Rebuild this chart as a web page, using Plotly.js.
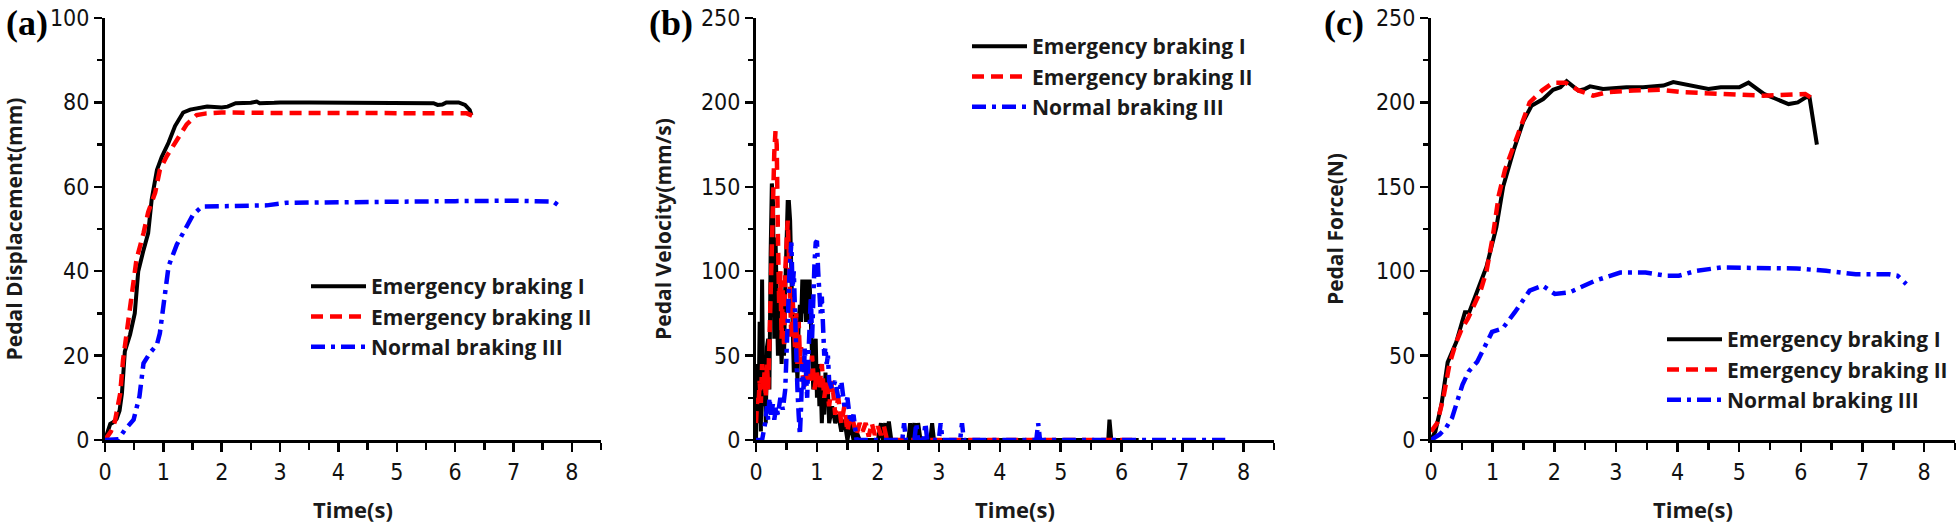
<!DOCTYPE html>
<html>
<head>
<meta charset="utf-8">
<script src="https://cdn.plot.ly/plotly-3.0.1.min.js"></script>
<style>html,body{margin:0;padding:0;background:#fff;}#chart{width:1960px;height:524px;}</style>
</head>
<body>
<div id="chart"></div>
<script>
// ---------- Data ----------
const seriesNames = ['Emergency braking I', 'Emergency braking II', 'Normal braking III'];
const xTicks = [0, 1, 2, 3, 4, 5, 6, 7, 8];

// (a) Pedal displacement (mm)
const tA1 = [0, 0.05, 0.09, 0.14, 0.2, 0.25, 0.29, 0.34, 0.43, 0.51, 0.57, 0.66, 0.74, 0.8, 0.89, 0.97, 1.09, 1.2, 1.34, 1.46, 1.6, 1.75, 2.0, 2.1, 2.24, 2.5, 2.6, 2.65, 2.9, 3.0, 3.5, 4.0, 4.5, 5.0, 5.5, 5.63, 5.7, 5.78, 5.85, 6.06, 6.17, 6.25, 6.28];
const vA1 = [0, 2, 3.8, 4.2, 5, 7, 11, 21, 25, 30, 40, 45, 49, 57, 64, 67, 70.5, 74.4, 77.6, 78.3, 78.6, 79, 78.8, 79, 79.8, 79.9, 80.2, 79.8, 79.9, 80, 80, 80, 80, 80, 80, 79.8, 79.4, 79.5, 80, 80, 79.4, 78.2, 77];
const tA2 = [0, 0.1, 0.17, 0.26, 0.31, 0.4, 0.54, 0.66, 0.74, 0.86, 0.94, 1.06, 1.2, 1.4, 1.57, 1.74, 2.0, 2.5, 3, 4, 5, 6, 6.2, 6.3];
const vA2 = [0, 2, 4.4, 11, 19, 28.5, 42.8, 49, 54, 58.6, 64, 67.3, 70.5, 74.8, 77, 77.4, 77.6, 77.5, 77.5, 77.5, 77.5, 77.5, 77.4, 76.8];
const tA3 = [0, 0.23, 0.34, 0.49, 0.59, 0.66, 0.77, 0.89, 0.94, 1.01, 1.09, 1.23, 1.37, 1.51, 1.66, 2.03, 2.77, 3.11, 4.03, 5, 6, 7, 7.58, 7.68, 7.76];
const vA3 = [0, 0.2, 2.4, 4.8, 10.3, 18.2, 20.6, 22.6, 25.3, 33.3, 41.2, 46.3, 49.9, 53.4, 55.3, 55.4, 55.6, 56.2, 56.4, 56.5, 56.6, 56.7, 56.7, 56.5, 55.7];

// (b) Pedal velocity (mm/s)
const tB1 = [0, 0.02, 0.04, 0.06, 0.08, 0.1, 0.12, 0.14, 0.16, 0.18, 0.2, 0.22, 0.24, 0.26, 0.28, 0.3, 0.32, 0.34, 0.36, 0.38, 0.4, 0.42, 0.44, 0.46, 0.48, 0.5, 0.52, 0.54, 0.56, 0.58, 0.6, 0.62, 0.64, 0.66, 0.68, 0.7, 0.72, 0.74, 0.76, 0.78, 0.8, 0.82, 0.84, 0.86, 0.88, 0.9, 0.92, 0.94, 0.96, 0.98, 1.0, 1.02, 1.04, 1.06, 1.08, 1.1, 1.12, 1.14, 1.16, 1.18, 1.2, 1.25, 1.3, 1.35, 1.4, 1.45, 1.5, 1.55, 1.6, 1.65, 1.7, 2.0, 2.05, 2.08, 2.12, 2.15, 2.18, 2.22, 2.5, 2.53, 2.56, 2.6, 2.63, 2.66, 2.7, 2.86, 2.89, 2.92, 5.78, 5.8, 5.83, 6.28];
const vB1 = [0, 45, 10, 70, 5, 95, 20, 40, 10, 55, 60, 30, 110, 152, 140, 60, 120, 80, 50, 90, 60, 45, 70, 50, 90, 120, 141, 141, 130, 100, 60, 40, 75, 60, 35, 70, 80, 70, 95, 75, 95, 70, 95, 70, 95, 70, 40, 30, 55, 60, 25, 45, 20, 35, 10, 30, 15, 40, 20, 30, 10, 20, 10, 15, 5, 12, 0, 10, 0, 5, 0, 0, 10, 0, 10, 0, 11, 0, 0, 10, 0, 10, 0, 10, 0, 0, 10, 0, 0, 12, 0, 0];
const tB2 = [0, 0.02, 0.04, 0.06, 0.08, 0.1, 0.12, 0.14, 0.16, 0.18, 0.2, 0.22, 0.24, 0.26, 0.28, 0.3, 0.32, 0.34, 0.36, 0.38, 0.4, 0.42, 0.44, 0.46, 0.48, 0.5, 0.52, 0.54, 0.56, 0.58, 0.6, 0.62, 0.64, 0.66, 0.68, 0.7, 0.72, 0.74, 0.76, 0.8, 0.84, 0.88, 0.92, 0.96, 1.0, 1.04, 1.08, 1.12, 1.16, 1.2, 1.25, 1.3, 1.35, 1.4, 1.45, 1.5, 1.55, 1.6, 1.65, 1.7, 1.75, 1.8, 1.85, 1.9, 1.95, 2.0, 2.05, 2.1, 2.15, 6.25];
const vB2 = [10, 25, 20, 35, 22, 45, 30, 40, 25, 45, 30, 60, 100, 120, 150, 170, 183, 175, 120, 80, 100, 60, 90, 55, 100, 125, 130, 110, 80, 60, 85, 70, 55, 75, 45, 70, 50, 55, 40, 30, 45, 35, 50, 30, 40, 30, 45, 25, 35, 20, 35, 15, 25, 10, 20, 5, 15, 10, 3, 10, 5, 10, 2, 10, 3, 8, 3, 8, 0, 0];
const tB3 = [0, 0.1, 0.15, 0.18, 0.2, 0.22, 0.25, 0.28, 0.3, 0.33, 0.36, 0.4, 0.44, 0.48, 0.5, 0.52, 0.55, 0.58, 0.6, 0.62, 0.64, 0.66, 0.68, 0.7, 0.72, 0.74, 0.76, 0.78, 0.8, 0.82, 0.84, 0.86, 0.88, 0.9, 0.92, 0.94, 0.96, 0.98, 1.0, 1.02, 1.04, 1.06, 1.08, 1.1, 1.12, 1.14, 1.16, 1.18, 1.2, 1.25, 1.3, 1.35, 1.4, 1.45, 1.5, 1.55, 1.6, 1.65, 2.4, 2.43, 2.46, 2.6, 2.63, 2.66, 2.75, 2.78, 2.81, 3.0, 3.03, 3.06, 3.35, 3.38, 3.41, 4.6, 4.63, 4.66, 7.7];
const vB3 = [0, 0, 10, 20, 12, 25, 15, 22, 12, 20, 15, 25, 18, 30, 50, 80, 100, 117, 90, 100, 70, 55, 30, 15, 3, 20, 45, 30, 55, 40, 25, 50, 70, 85, 60, 90, 105, 117, 118, 100, 90, 75, 85, 60, 50, 55, 45, 50, 35, 30, 35, 25, 35, 20, 25, 10, 15, 0, 0, 10, 0, 0, 10, 0, 0, 10, 0, 0, 10, 0, 0, 10, 0, 0, 10, 0, 0];

// (c) Pedal force (N)
const tC1 = [0, 0.07, 0.17, 0.27, 0.41, 0.51, 0.55, 0.62, 0.74, 0.9, 1.06, 1.17, 1.34, 1.5, 1.63, 1.82, 1.98, 2.1, 2.2, 2.39, 2.5, 2.58, 2.79, 3.17, 3.44, 3.77, 3.93, 4.2, 4.5, 4.7, 5.0, 5.15, 5.4, 5.6, 5.8, 5.95, 6.08, 6.14, 6.2, 6.26];
const vC1 = [0, 5, 21, 46, 58, 72, 75.7, 75.7, 86.8, 102.6, 126, 150, 171.6, 189, 198, 202, 207.5, 209, 212.6, 207, 208, 209.5, 208, 209, 209, 210, 212, 210, 208, 209, 209, 211.7, 205, 202, 199, 200, 203, 203, 190, 175];
const tC2 = [0, 0.1, 0.2, 0.3, 0.4, 0.5, 0.6, 0.7, 0.8, 0.9, 1.0, 1.1, 1.2, 1.4, 1.6, 1.8, 1.98, 2.18, 2.4, 2.63, 2.85, 3.28, 3.72, 4.1, 4.7, 5.39, 6.07, 6.2];
const vC2 = [5, 10, 25, 45, 57, 66, 72, 80, 88, 100, 120, 145, 160, 180, 200, 207, 211.7, 211.7, 207, 204, 206, 207, 207.5, 206, 205, 204, 205, 202];
const tC3 = [0, 0.14, 0.24, 0.34, 0.51, 0.61, 0.75, 0.89, 0.99, 1.16, 1.36, 1.6, 1.81, 2.01, 2.25, 2.66, 3.07, 3.48, 3.82, 4.02, 4.3, 4.71, 5.39, 5.93, 6.41, 6.89, 7.43, 7.57, 7.71];
const vC3 = [0, 3.3, 7, 13, 32.7, 40.5, 46.4, 56, 64, 66, 75.7, 88.5, 91.4, 86.5, 87.5, 94.3, 99.2, 99.2, 97.3, 97.3, 100.2, 102.2, 101.6, 101.6, 100.2, 98.2, 98.2, 97.3, 92.4];

// ---------- Styling ----------
const lineStyles = [
  {color: '#000000', width: 4, dash: 'solid'},
  {color: '#ff0000', width: 4.5, dash: '12px,7px'},
  {color: '#0000ff', width: 4.5, dash: '14px,6px,4px,6px'}
];
const tickFont = {family: 'Liberation Sans Narrow, DejaVu Sans Condensed, Arial, sans-serif', size: 23, color: '#111'};
const titleFont = {family: 'Open Sans, Segoe UI, sans-serif', size: 21, color: '#1a1a1a', weight: 700};
const xTitleFont = {family: 'Open Sans, Segoe UI, sans-serif', size: 22, color: '#1a1a1a', weight: 700};
const legendFont = {family: 'Open Sans, Segoe UI, sans-serif', size: 21, color: '#1a1a1a', weight: 700};

function mk(xs, ys, i, xa, ya, lg) {
  return {x: xs, y: ys, type: 'scatter', mode: 'lines', name: seriesNames[i],
    xaxis: xa, yaxis: ya, legend: lg, legendgroup: lg + i,
    line: Object.assign({}, lineStyles[i])};
}
const data = [
  mk(tA1, vA1, 0, 'x', 'y', 'legend'), mk(tA2, vA2, 1, 'x', 'y', 'legend'), mk(tA3, vA3, 2, 'x', 'y', 'legend'),
  mk(tB1, vB1, 0, 'x2', 'y2', 'legend2'), mk(tB2, vB2, 1, 'x2', 'y2', 'legend2'), mk(tB3, vB3, 2, 'x2', 'y2', 'legend2'),
  mk(tC1, vC1, 0, 'x3', 'y3', 'legend3'), mk(tC2, vC2, 1, 'x3', 'y3', 'legend3'), mk(tC3, vC3, 2, 'x3', 'y3', 'legend3')
];

const W = 1960, H = 524;
const px = v => v / W, py = v => 1 - v / H;

function xax(d0, d1, anchor) {
  return {domain: [px(d0), px(d1)], anchor: anchor, range: [0, 8.5], tickvals: xTicks, automargin: false,
    showline: true, linewidth: 3, linecolor: '#000', ticks: 'outside', ticklen: 9, tickwidth: 2.5, tickcolor: '#000',
    minor: {ticks: 'outside', ticklen: 7, tickwidth: 2.5, tickcolor: '#000', dtick: 0.5},
    showgrid: false, zeroline: false, tickfont: tickFont, fixedrange: true,
    title: {text: 'Time(s)', font: xTitleFont, standoff: 20}};
}
function yax(anchor, top, step, minor, title, standoff) {
  return {domain: [py(440), py(18)], anchor: anchor, range: [0, top], dtick: step, tick0: 0, automargin: false,
    showline: true, linewidth: 3, linecolor: '#000', ticks: 'outside', ticklen: 8, tickwidth: 2.5, tickcolor: '#000',
    minor: {ticks: 'outside', ticklen: 5, tickwidth: 2.5, tickcolor: '#000', dtick: minor},
    showgrid: false, zeroline: false, tickfont: tickFont, fixedrange: true,
    title: {text: title, font: titleFont, standoff: standoff}};
}
function leg(x, y) {
  return {x: px(x), y: py(y), xanchor: 'left', yanchor: 'top', bgcolor: 'rgba(0,0,0,0)',
    font: legendFont, itemwidth: 55, tracegroupgap: 6, traceorder: 'normal'};
}

const layout = {
  width: W, height: H, margin: {l: 0, r: 0, t: 0, b: 0, autoexpand: false},
  paper_bgcolor: '#fff', plot_bgcolor: '#fff', showlegend: true,
  xaxis: xax(105, 601, 'y'), yaxis: yax('x', 100, 20, 10, 'Pedal Displacement(mm)', 27),
  xaxis2: xax(756, 1274, 'y2'), yaxis2: yax('x2', 250, 50, 25, 'Pedal Velocity(mm/s)', 24),
  xaxis3: xax(1431, 1955, 'y3'), yaxis3: yax('x3', 250, 50, 25, 'Pedal Force(N)', 27),
  legend: leg(306, 266), legend2: leg(967, 26), legend3: leg(1662, 319),
  annotations: [
    {text: '(a)', x: px(4), y: py(23), xref: 'paper', yref: 'paper', xanchor: 'left', yanchor: 'middle', showarrow: false,
      font: {family: 'Liberation Serif, Times New Roman, serif', size: 36, color: '#000', weight: 700}},
    {text: '(b)', x: px(647), y: py(23), xref: 'paper', yref: 'paper', xanchor: 'left', yanchor: 'middle', showarrow: false,
      font: {family: 'Liberation Serif, Times New Roman, serif', size: 36, color: '#000', weight: 700}},
    {text: '(c)', x: px(1322), y: py(23), xref: 'paper', yref: 'paper', xanchor: 'left', yanchor: 'middle', showarrow: false,
      font: {family: 'Liberation Serif, Times New Roman, serif', size: 36, color: '#000', weight: 700}}
  ]
};

Plotly.newPlot('chart', data, layout, {staticPlot: true, displayModeBar: false});
</script>
</body>
</html>
